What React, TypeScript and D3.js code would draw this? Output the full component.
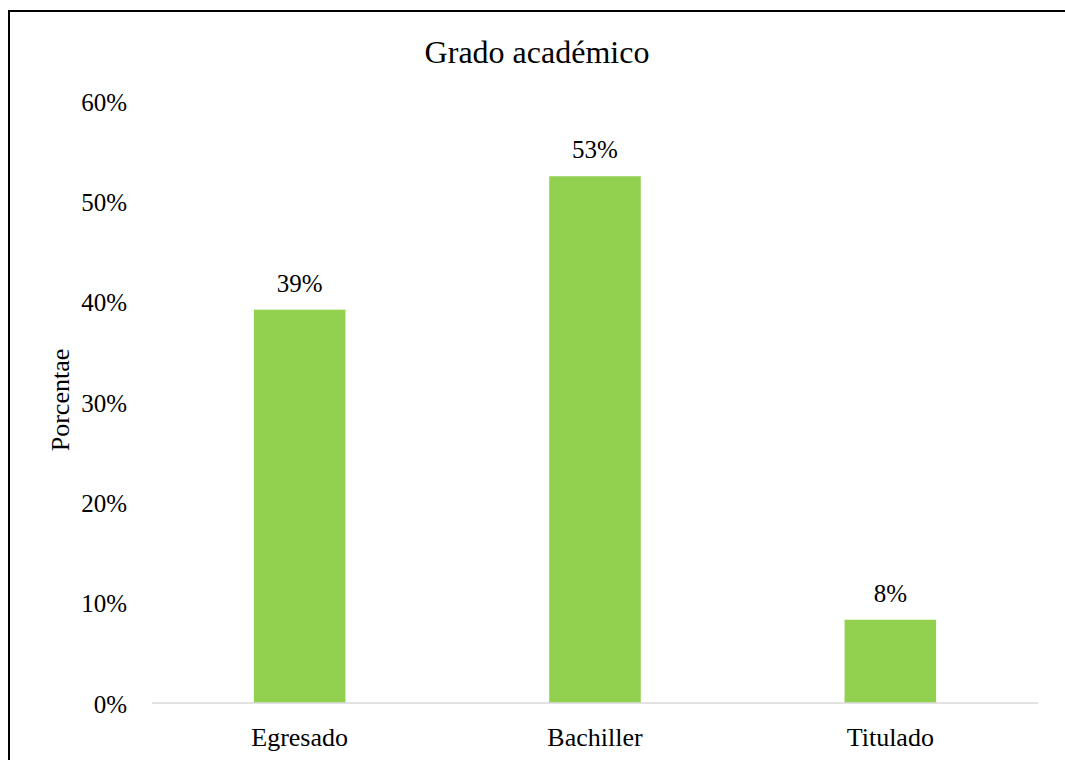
import { scaleBand, scaleLinear } from "d3";

const categories = ["Egresado", "Bachiller", "Titulado"];
const values = [0.392, 0.525, 0.083];
const yTickValues = [0, 0.1, 0.2, 0.3, 0.4, 0.5, 0.6];

const title = "Grado académico";
const yAxisTitle = "Porcentae";

const width = 1065;
const height = 760;
const font = "'Liberation Serif', 'Times New Roman', serif";

const fmtPct = (v: number) => `${Math.round(v * 100 + 1e-9)}%`;

export default function App() {
  const x = scaleBand<string>()
    .domain(categories)
    .range([152, 1038])
    .paddingInner(0.69)
    .paddingOuter(0.345);

  const y = scaleLinear().domain([0, 0.6]).range([703, 101]);

  return (
    <svg
      width={width}
      height={height}
      viewBox={`0 0 ${width} ${height}`}
      style={{ position: "absolute", left: 0, top: 0, display: "block" }}
      fontFamily={font}
    >
      <rect x={0} y={0} width={width} height={height} fill="#fff" />
      <rect
        x={9}
        y={11}
        width={1200}
        height={900}
        fill="none"
        stroke="#000"
        strokeWidth={2}
      />

      <text x={537} y={63} textAnchor="middle" fontSize={32} fill="#000">
        {title}
      </text>

      <text
        transform={`translate(69, ${y(0.3) - 2}) rotate(-90)`}
        textAnchor="middle"
        fontSize={26}
        fill="#000"
      >
        {yAxisTitle}
      </text>

      {yTickValues.map((t) => (
        <text
          key={`yt-${t}`}
          x={127}
          y={y(t) + 1}
          textAnchor="end"
          dominantBaseline="central"
          fontSize={25}
          fill="#000"
        >
          {fmtPct(t)}
        </text>
      ))}

      {categories.map((c, i) => (
        <g key={c}>
          <rect
            x={x(c)}
            y={y(values[i])}
            width={x.bandwidth()}
            height={y(0) - y(values[i])}
            fill="#92D050"
          />
          <text
            x={(x(c) ?? 0) + x.bandwidth() / 2}
            y={y(values[i]) - 18}
            textAnchor="middle"
            fontSize={25}
            fill="#000"
          >
            {fmtPct(values[i])}
          </text>
          <text
            x={(x(c) ?? 0) + x.bandwidth() / 2}
            y={746}
            textAnchor="middle"
            fontSize={26}
            fill="#000"
          >
            {c}
          </text>
        </g>
      ))}

      <line
        x1={152}
        x2={1038}
        y1={y(0)}
        y2={y(0)}
        stroke="#d9d9d9"
        strokeWidth={1.5}
      />
    </svg>
  );
}
